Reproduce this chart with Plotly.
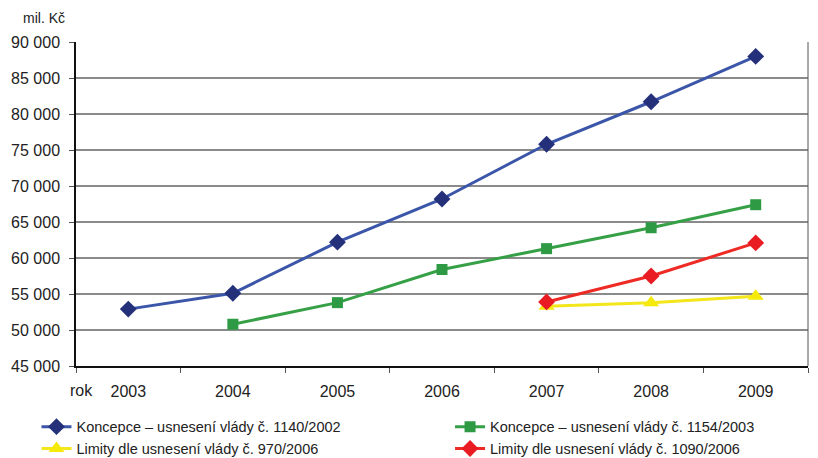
import plotly.graph_objects as go

years = ["2003", "2004", "2005", "2006", "2007", "2008", "2009"]
koncepce_1140 = [52900, 55100, 62200, 68200, 75800, 81700, 88000]
koncepce_1154 = [None, 50800, 53800, 58400, 61300, 64200, 67400]
limity_970 = [None, None, None, None, 53300, 53800, 54700]
limity_1090 = [None, None, None, None, 53900, 57500, 62100]

names = [
    "Koncepce – usnesení vlády č. 1140/2002",
    "Koncepce – usnesení vlády č. 1154/2003",
    "Limity dle usnesení vlády č. 970/2006",
    "Limity dle usnesení vlády č. 1090/2006",
]

FONT = "Liberation Sans, Arial, sans-serif"

fig = go.Figure()
fig.add_trace(go.Scatter(
    x=years, y=koncepce_1140, name=names[0], mode="lines+markers",
    line=dict(color="#3B55A8", width=3),
    marker=dict(symbol="diamond", size=13, color="#25307A"),
    legend="legend", legendrank=1,
))
fig.add_trace(go.Scatter(
    x=years, y=koncepce_1154, name=names[1], mode="lines+markers",
    line=dict(color="#36A047", width=3),
    marker=dict(symbol="square", size=11, color="#2E9A44"),
    legend="legend2", legendrank=1,
))
fig.add_trace(go.Scatter(
    x=years, y=limity_970, name=names[2], mode="lines+markers",
    line=dict(color="#F3E61A", width=3),
    marker=dict(symbol="triangle-up", size=14, color="#F5EA0A"),
    legend="legend", legendrank=2,
))
fig.add_trace(go.Scatter(
    x=years, y=limity_1090, name=names[3], mode="lines+markers",
    line=dict(color="#EE2A24", width=3),
    marker=dict(symbol="diamond", size=13, color="#E91C24"),
    legend="legend2", legendrank=2,
))

legend_common = dict(
    orientation="v", yanchor="top", y=-0.138, xanchor="left",
    font=dict(family=FONT, size=14.5, color="#222"),
    itemclick=False, bgcolor="rgba(0,0,0,0)", tracegroupgap=0,
)

fig.update_layout(
    width=810, height=450,
    margin=dict(l=68, r=10, t=34, b=92, autoexpand=False),
    paper_bgcolor="white", plot_bgcolor="white",
    separators=", ",
    font=dict(family=FONT, size=16, color="#222"),
    showlegend=True,
    legend=dict(x=-0.054, **legend_common),
    legend2=dict(x=0.511, **legend_common),
)
fig.update_xaxes(
    type="category", range=[-0.5, 6.5], tickson="boundaries",
    ticks="outside", ticklen=5, tickcolor="#555", tickwidth=1,
    ticklabelstandoff=10,
    showline=True, linecolor="#111", linewidth=2, showgrid=False,
    tickfont=dict(family=FONT, size=16, color="#222"),
)
fig.update_yaxes(
    range=[45000, 90000], dtick=5000, tickformat=",d",
    ticks="outside", ticklen=5, tickcolor="#555",
    ticklabelstandoff=6,
    showline=True, linecolor="#111", linewidth=1.5,
    showgrid=True, gridcolor="#8A8A8A", gridwidth=1.5,
    zeroline=False,
    tickfont=dict(family=FONT, size=16, color="#222"),
)
fig.add_shape(type="line", xref="paper", yref="paper", x0=1, x1=1, y0=0, y1=1,
              line=dict(color="#555", width=1))
fig.add_annotation(text="mil. Kč", xref="paper", yref="paper", x=-0.075, y=1.0,
                   xanchor="left", yanchor="bottom", yshift=14, showarrow=False,
                   font=dict(family=FONT, size=14, color="#222"))
fig.add_annotation(text="rok", xref="paper", yref="paper", x=0.0, y=0.0,
                   xanchor="left", yanchor="top", yshift=-14, xshift=-8, showarrow=False,
                   font=dict(family=FONT, size=16, color="#222"))

fig.write_html("out.html")
